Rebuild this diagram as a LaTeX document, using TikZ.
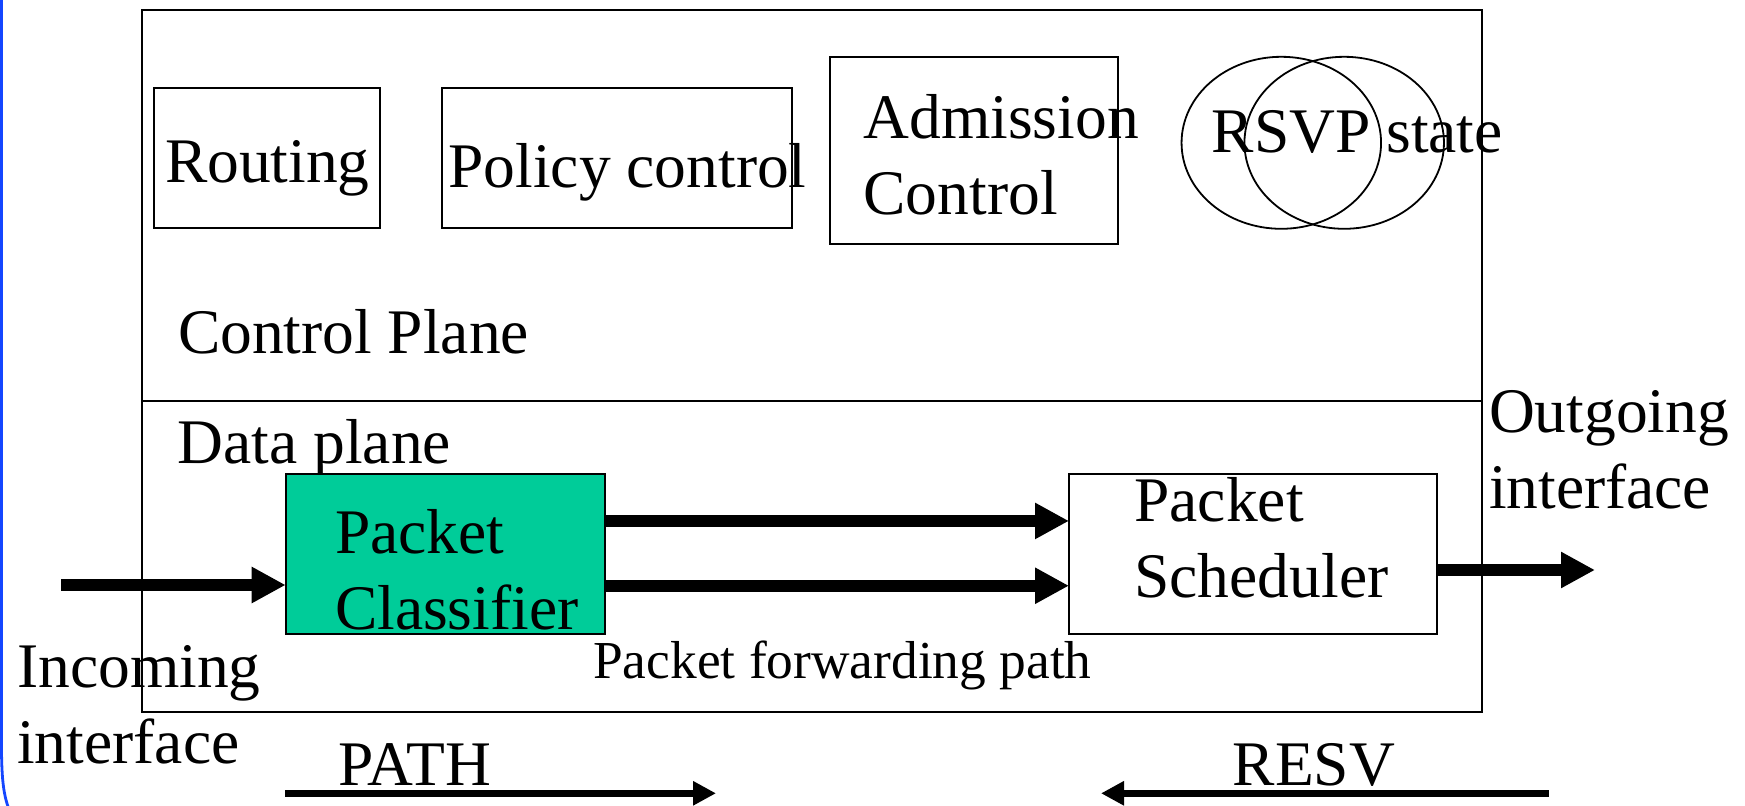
\documentclass[tikz,border=0pt]{standalone}
\usepackage{fontspec}
\setmainfont{Liberation Serif}
\usetikzlibrary{arrows.meta,shapes.geometric}
\definecolor{clsgreen}{RGB}{0,204,153}
\definecolor{slideblue}{RGB}{20,70,255}
\newcommand{\bigtxt}{\fontsize{31.75}{38}\selectfont}
\newcommand{\smalltxt}{\fontsize{26.7}{32}\selectfont}

\begin{document}
\begin{tikzpicture}[x=0.5pt,y=-0.5pt]
      \tikzstyle{every node}=[inner sep=0pt,outer sep=0pt,font=\bigtxt]
      \tikzstyle{box}=[draw,rectangle,line width=1pt]
      \tikzstyle{txt}=[anchor=base west,align=left]
      \tikzstyle{fat}=[line width=6pt,-{Triangle[length=17pt,width=17pt]}]
      \tikzstyle{msg}=[line width=3.75pt,-{Triangle[length=11.5pt,width=11.5pt]}]
      \useasboundingbox (0,0) rectangle (1745,806);
      \draw[slideblue,line width=1.4pt] (1.5,-5) -- (1.5,745)
          .. controls (1.5,782) and (4,797) .. (10,812);
      % router with control and data plane
      \node[box,minimum width=670.25pt,minimum height=351pt] (router) at (811.75,361) {};
      \draw[line width=1pt] (router.west |- 0,401) -- (router.east |- 0,401);
      \node[box,minimum width=113pt,minimum height=70pt] (routing) at (266.5,158) {};
      \node[box,minimum width=175pt,minimum height=70pt] (policy) at (617,158) {};
      \node[box,minimum width=144pt,minimum height=93.5pt] (admission) at (974,150.5) {};
      \node[draw,ellipse,line width=0.9pt,minimum width=99.75pt,minimum height=86pt] (stateL) at (1281.3,142.8) {};
      \node[draw,ellipse,line width=0.9pt,minimum width=99.75pt,minimum height=86pt] (stateR) at (1344.2,142.8) {};
      \node[txt] (routingtxt) at (165,183) {Routing};
      \node[txt] (policytxt) at (448.5,187.5) {Policy control};
      \node[txt] (admissiontxt) at (863.6,214.8) {Admission\\Control};
      \node[txt] (statetxt) at (1211.7,152.3) {RSVP state};
      \node[txt] (ctrltxt) at (178,354) {Control Plane};
      \node[txt] (datatxt) at (177.7,464) {Data plane};
      \node[box,fill=clsgreen,minimum width=159.5pt,minimum height=79.75pt] (classifier) at (445.2,553.75) {};
      \node[box,minimum width=184pt,minimum height=79.75pt] (scheduler) at (1253,553.75) {};
      \node[txt] (classifiertxt) at (335,630) {Packet\\Classifier};
      \node[txt] (schedulertxt) at (1134.4,597.7) {Packet\\Scheduler};
      \node[txt] (outtxt) at (1489,509) {Outgoing\\interface};
      \node[txt] (intxt) at (17.3,763.5) {Incoming\\interface};
      \node[txt,font=\smalltxt] (fwdtxt) at (593.3,678.3) {Packet forwarding path};
      \node[txt] (pathtxt) at (338,785.5) {PATH};
      \node[txt] (resvtxt) at (1232.8,785.5) {RESV};
      \coordinate (inStart) at (61,585);
      \coordinate (outEnd) at (1595,570);
      \coordinate (pathStart) at (285,793.3);
      \coordinate (pathEnd) at (716,793.3);
      \coordinate (resvStart) at (1548.7,793.3);
      \coordinate (resvEnd) at (1101,793.3);
      \draw[fat] (inStart) -- (inStart -| classifier.west);
      \draw[fat] ([yshift=16.4pt]classifier.east) -- ([yshift=16.4pt]scheduler.west);
      \draw[fat] ([yshift=-16pt]classifier.east) -- ([yshift=-16pt]scheduler.west);
      \draw[fat] (scheduler.east |- outEnd) -- (outEnd);
      \draw[msg] (pathStart) -- (pathEnd);
      \draw[msg] (resvStart) -- (resvEnd);
\end{tikzpicture}
\end{document}
